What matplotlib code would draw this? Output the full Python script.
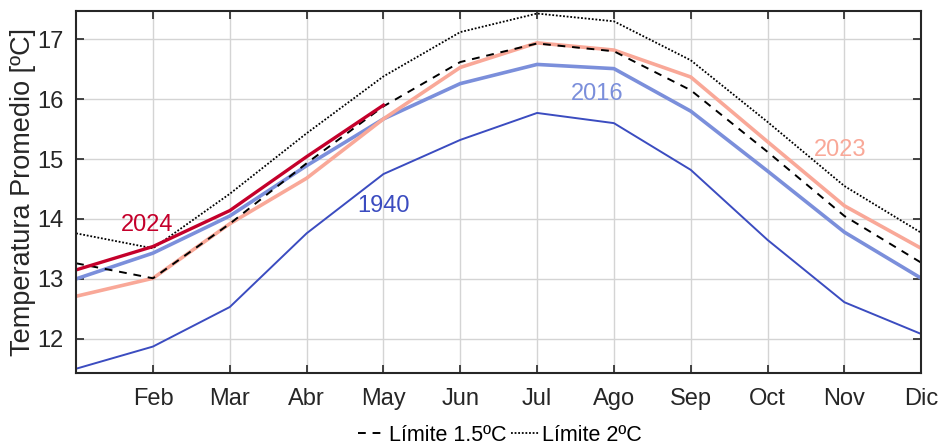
import matplotlib.pyplot as plt
import numpy as np

plt.rcParams['font.family'] = ['Liberation Sans', 'DejaVu Sans']

months = ['Ene', 'Feb', 'Mar', 'Abr', 'May', 'Jun', 'Jul', 'Ago', 'Sep', 'Oct', 'Nov', 'Dic']
t_1940 = [11.50, 11.87, 12.53, 13.76, 14.75, 15.32, 15.77, 15.60, 14.82, 13.65, 12.61, 12.08]
t_2016 = [13.00, 13.43, 14.05, 14.89, 15.67, 16.26, 16.58, 16.51, 15.80, 14.80, 13.78, 13.01]
t_2023 = [12.71, 13.01, 13.92, 14.68, 15.67, 16.53, 16.94, 16.82, 16.37, 15.29, 14.22, 13.51]
t_2024 = [13.15, 13.54, 14.14, 15.04, 15.90]
lim_15 = [13.26, 13.01, 13.92, 14.93, 15.88, 16.62, 16.93, 16.80, 16.15, 15.12, 14.05, 13.27]
lim_20 = [13.76, 13.51, 14.42, 15.43, 16.38, 17.12, 17.43, 17.30, 16.65, 15.62, 14.55, 13.77]

x = np.arange(1, 13)

fig = plt.figure(figsize=(9.4, 4.45), dpi=100)
ax = fig.add_axes([0.081, 0.162, 0.899, 0.813])

ax.plot(x, t_1940, color='#3b4cc0', lw=1.4)
ax.plot(x, t_2016, color='#7b8fdb', lw=2.6)
ax.plot(x, t_2023, color='#f9a898', lw=2.6)
l15, = ax.plot(x, lim_15, color='black', lw=1.4, dashes=(4, 3.5), label='Límite 1.5ºC')
l20, = ax.plot(x, lim_20, color='black', lw=1.3, dashes=(1, 1), label='Límite 2ºC')
ax.plot(x[:len(t_2024)], t_2024, color='#c4002b', lw=2.4)

ax.text(1.92, 13.9, '2024', color='#c4002b', fontsize=17, ha='center', va='center')
ax.text(5, 14.22, '1940', color='#3b4cc0', fontsize=17, ha='center', va='center')
ax.text(7.78, 16.08, '2016', color='#7b8fdb', fontsize=17, ha='center', va='center')
ax.text(10.95, 15.15, '2023', color='#f9a898', fontsize=17, ha='center', va='center')

ax.set_xlim(1, 12)
ax.set_ylim(11.43, 17.47)
ax.set_xticks(x[1:])
ax.set_xticklabels(months[1:])
ax.set_yticks([12, 13, 14, 15, 16, 17])
ax.set_ylabel('Temperatura Promedio [ºC]', fontsize=19.5, color='#262626')
ax.yaxis.set_label_coords(-0.047, 0.5)

ax.grid(True, color='#d4d4d4', lw=1)
ax.set_axisbelow(True)
ax.tick_params(direction='in', length=6, width=1.2, top=True, right=True,
               labelsize=17, colors='#262626')
ax.tick_params(axis='x', pad=11)
ax.tick_params(axis='y', pad=9)
for s in ax.spines.values():
    s.set_color('#262626')
    s.set_linewidth(1.5)

fig.legend(handles=[l15, l20], loc='lower center', bbox_to_anchor=(0.532, -0.045),
           ncol=2, frameon=False, fontsize=15.5, handlelength=1.3,
           handletextpad=0.15, columnspacing=0.2)

fig.savefig('out.png', dpi=100)
